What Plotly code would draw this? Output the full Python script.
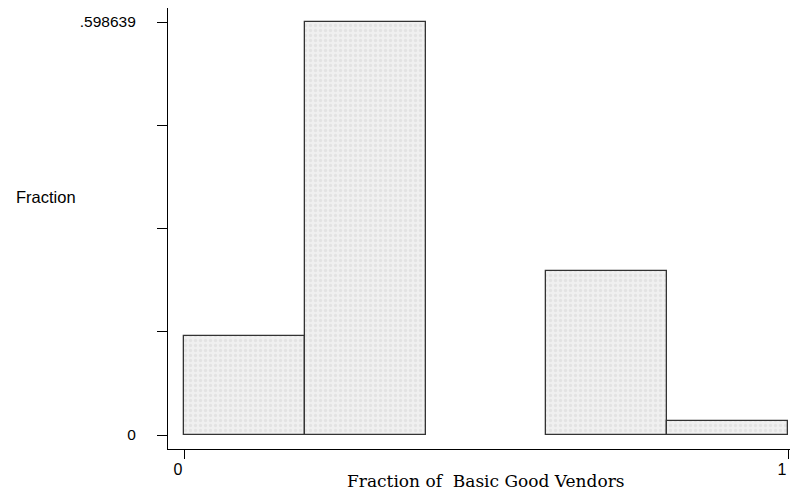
import plotly.graph_objects as go

# Histogram bins (width 0.2) and fractions
bin_centers = [0.1, 0.3, 0.7, 0.9]
bin_width = 0.2
fractions = [0.142857, 0.598639, 0.238095, 0.020408]

y_tick_vals = [0, 0.149660, 0.299320, 0.448979, 0.598639]
y_tick_text = ["0", "", "", "", ".598639"]
x_tick_vals = [0, 1]
x_tick_text = ["0", "1"]

fig = go.Figure()
fig.add_trace(go.Bar(
    x=bin_centers,
    y=fractions,
    width=[bin_width] * len(bin_centers),
    marker=dict(
        color="#eeeeee",
        line=dict(color="#333333", width=1.3),
        pattern=dict(shape=".", fgcolor="#d6d6d6", bgcolor="#f0f0f0", size=5, solidity=0.35),
    ),
    showlegend=False,
))

W, H = 793, 498
ml, mr, mt, mb = 168, 3, 8, 49
pw = W - ml - mr
ph = H - mt - mb

fig.update_layout(
    width=W, height=H,
    margin=dict(l=ml, r=mr, t=mt, b=mb),
    paper_bgcolor="white",
    plot_bgcolor="white",
    bargap=0,
    font=dict(family="Liberation Sans, Arial, sans-serif", size=15, color="#000"),
    xaxis=dict(
        range=[-16 / 604, 1 + 2 / 604],
        tickvals=x_tick_vals, ticktext=x_tick_text,
        ticks="outside", ticklen=9, tickwidth=1, tickcolor="#000",
        showline=True, linecolor="#000", linewidth=1.2,
        showgrid=False, zeroline=False,
        tickfont=dict(size=16),
        ticklabelstandoff=-3,
        ticklabelshift=-6,
    ),
    yaxis=dict(
        range=[-14 / 689.9, 0.598639 + 14 / 689.9],
        tickvals=y_tick_vals, ticktext=y_tick_text,
        ticks="outside", ticklen=10, tickwidth=1, tickcolor="#000",
        showline=True, linecolor="#000", linewidth=1.2,
        showgrid=False, zeroline=False,
        tickfont=dict(size=15.5),
        ticklabelstandoff=18,
    ),
    annotations=[
        dict(text="Fraction", xref="paper", yref="paper",
             x=(14 - ml) / pw, y=(H - mb - 197) / ph,
             xanchor="left", yanchor="middle", showarrow=False,
             font=dict(family="Liberation Sans, Arial, sans-serif", size=16.5)),
        dict(text="Fraction of&nbsp; Basic Good Vendors", xref="paper", yref="paper",
             x=(486 - ml) / pw, y=(H - mb - 481) / ph,
             xanchor="center", yanchor="middle", showarrow=False,
             font=dict(family="DejaVu Serif, Liberation Serif, serif", size=17)),
    ],
)

fig.write_html("out.html")
